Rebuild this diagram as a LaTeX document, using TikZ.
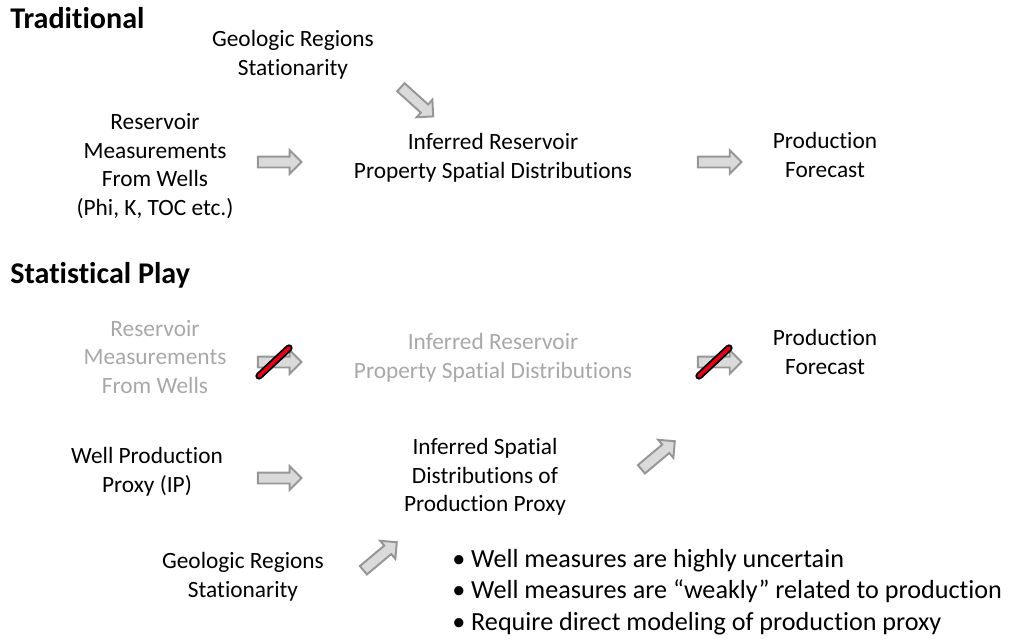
\documentclass[tikz,border=0pt]{standalone}
\usepackage{fontspec}
\setmainfont{Carlito}[Ligatures=CommonOff]
\usetikzlibrary{shapes.arrows,positioning,calc}
\definecolor{arrowline}{RGB}{150,150,150}
\definecolor{arrowfill}{RGB}{218,218,218}
\definecolor{fadedtext}{RGB}{168,168,168}
\definecolor{crossred}{RGB}{228,0,24}

\begin{document}
\begin{tikzpicture}[
    x=0.025cm, y=-0.025cm,
    txt/.style={align=center, font=\fontsize{16.6}{20.3}\selectfont, inner sep=0pt},
    faded/.style={txt, text=fadedtext},
    hdr/.style={anchor=west, font=\fontsize{21.4}{24}\selectfont\bfseries, inner sep=0pt},
    note/.style={anchor=west, align=left, font=\fontsize{18.6}{22.4}\selectfont, inner sep=0pt},
    bigarrow/.style={single arrow, draw=arrowline, fill=arrowfill, line width=1.4pt,
      minimum height=31pt, minimum width=16pt, single arrow head extend=4.5pt, inner sep=3.2pt},
    nogo/.style={draw=black, line width=1.3pt, double=crossred, double distance=2.6pt, line cap=round}
  ]
  \useasboundingbox (0,0) rectangle (1010,638);

  % traditional workflow
  \node[hdr] (trad) at (10,18) {Traditional};
  \node[txt] (geo1) at (293,55) {Geologic Regions\\Stationarity};
  \node[txt] (meas1) at (155,166) {Reservoir\\Measurements\\From Wells\\(Phi, K, TOC etc.)};
  \node[txt] (infer1) at (493,158) {Inferred Reservoir\\Property Spatial Distributions};
  \node[txt] (fore1) at (825,155) {Production\\Forecast};
  \node[bigarrow] (a1) at (277,162) {};
  \node[bigarrow, rotate=-42] (a2) at (415,100) {};
  \node[bigarrow] (a3) at (717,162) {};

  % statistical play
  \node[hdr] (stat) at (10,275) {Statistical Play};
  \node[faded] (meas2) at (155,357) {Reservoir\\Measurements\\From Wells};
  \node[faded] (infer2) at (493,358) {Inferred Reservoir\\Property Spatial Distributions};
  \node[txt] (fore2) at (825,352) {Production\\Forecast};
  \node[bigarrow] (b1) at (277,362) {};
  \node[bigarrow] (b2) at (717,362) {};
  \draw[nogo] ($(b1.center)+(-18,14)$) -- ($(b1.center)+(12,-14)$);
  \draw[nogo] ($(b2.center)+(-18,14)$) -- ($(b2.center)+(12,-14)$);

  \node[txt] (proxy) at (147,472) {Well Production\\Proxy (IP)};
  \node[txt] (infer3) at (485,477) {Inferred Spatial\\Distributions of\\Production Proxy};
  \node[txt] (geo2) at (243,577) {Geologic Regions\\Stationarity};
  \node[bigarrow] (c1) at (277,478) {};
  \node[bigarrow, rotate=40] (c2) at (656,457) {};
  \node[bigarrow, rotate=40] (c3) at (378,558) {};

  \node[note] (bullets) at (452,592) {\textbullet\ Well measures are highly uncertain\\
    \textbullet\ Well measures are “weakly” related to production\\
    \textbullet\ Require direct modeling of production proxy};
\end{tikzpicture}
\end{document}
